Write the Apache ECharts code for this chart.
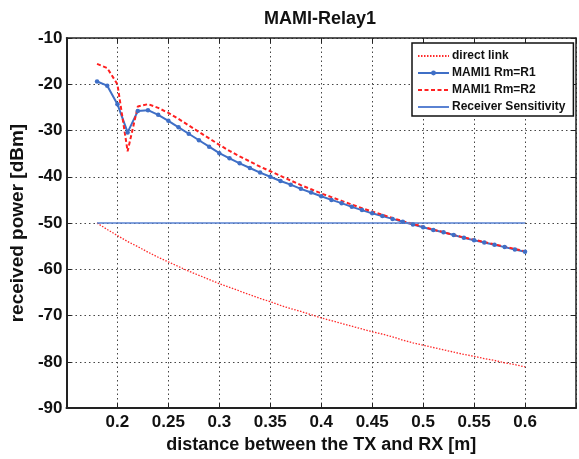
<!DOCTYPE html>
<html>
<head>
<meta charset="utf-8">
<script src="https://cdn.jsdelivr.net/npm/echarts@6/dist/echarts.min.js"></script>
<style>
  html, body { margin: 0; padding: 0; background: #fff; }
  #chart { width: 579px; height: 459px; }
</style>
</head>
<body>
<div id="chart"></div>
<script>
// Distance between TX and RX [m]
const distance = [0.18, 0.19, 0.20, 0.21, 0.22, 0.23, 0.24, 0.25, 0.26, 0.27, 0.28, 0.29, 0.30,
  0.31, 0.32, 0.33, 0.34, 0.35, 0.36, 0.37, 0.38, 0.39, 0.40,
  0.41, 0.42, 0.43, 0.44, 0.45, 0.46, 0.47, 0.48, 0.49, 0.50,
  0.51, 0.52, 0.53, 0.54, 0.55, 0.56, 0.57, 0.58, 0.59, 0.60];

// Received power [dBm]
const directLink = [-50.0, -51.4, -52.7, -54.0, -55.1, -56.3, -57.4, -58.4, -59.4, -60.4, -61.3, -62.2, -63.1,
  -63.9, -64.7, -65.5, -66.3, -67.0, -67.8, -68.5, -69.1, -69.8, -70.5,
  -71.1, -71.7, -72.3, -72.9, -73.5, -74.0, -74.6, -75.3, -75.9, -76.4,
  -76.9, -77.4, -77.9, -78.4, -78.8, -79.3, -79.7, -80.2, -80.6, -81.1];

const mamiR1 = [-19.4, -20.3, -24.3, -30.4, -25.8, -25.6, -26.6, -27.9, -29.3, -30.7, -32.1, -33.5, -34.9,
  -36.0, -37.1, -38.1, -39.1, -40.0, -40.9, -41.7, -42.6, -43.4, -44.2,
  -45.0, -45.7, -46.5, -47.2, -47.9, -48.5, -49.1, -49.7, -50.3, -50.9,
  -51.5, -52.0, -52.6, -53.2, -53.7, -54.2, -54.7, -55.2, -55.7, -56.2];

const mamiR2 = [-15.6, -16.5, -20.0, -34.5, -24.8, -24.3, -25.1, -26.2, -27.5, -28.9, -30.3, -31.7, -33.1,
  -34.4, -35.6, -36.7, -37.8, -38.8, -39.8, -40.8, -41.8, -42.7, -43.6,
  -44.4, -45.2, -46.0, -46.8, -47.5, -48.2, -48.9, -49.6, -50.2, -50.8,
  -51.4, -52.0, -52.6, -53.1, -53.6, -54.1, -54.6, -55.1, -55.6, -56.1];

const receiverSensitivity = -50;

const seriesNames = ['direct link', 'MAMI1 Rm=R1', 'MAMI1 Rm=R2', 'Receiver Sensitivity'];
const xTickLabels = ['0.2', '0.25', '0.3', '0.35', '0.4', '0.45', '0.5', '0.55', '0.6'];
const yTickLabels = ['-90', '-80', '-70', '-60', '-50', '-40', '-30', '-20', '-10'];

const FONT = '"Liberation Sans", Arial, Helvetica, sans-serif';
const pairs = ys => distance.map((d, i) => [d, ys[i]]);

const gridDots = { show: true, lineStyle: { color: '#444', width: 1, type: [1.5, 3] } };
const hiddenMarker = { opacity: 0 };

const chart = echarts.init(document.getElementById('chart'), null, { renderer: 'canvas' });

chart.setOption({
  animation: false,
  backgroundColor: '#fff',
  title: {
    text: 'MAMI-Relay1',
    left: 320,
    top: 10,
    padding: 0,
    textAlign: 'center',
    textStyle: { fontFamily: FONT, fontWeight: 'bold', fontSize: 18, color: '#111' }
  },
  legend: {
    orient: 'vertical',
    left: 412,
    top: 43,
    padding: [7, 8, 3, 5],
    itemGap: 5,
    itemWidth: 31,
    itemHeight: 6,
    backgroundColor: '#fff',
    borderColor: '#111',
    borderWidth: 1.5,
    borderRadius: 0,
    data: [
      { name: seriesNames[0], itemStyle: hiddenMarker },
      { name: seriesNames[1] },
      { name: seriesNames[2], itemStyle: hiddenMarker },
      { name: seriesNames[3], itemStyle: hiddenMarker }
    ],
    textStyle: { fontFamily: FONT, fontWeight: 'bold', fontSize: 12, color: '#111', lineHeight: 12, padding: [0, 0, 0, -2] }
  },
  grid: {
    left: 62, top: 38, width: 517, height: 374,
    show: false
  },
  xAxis: [{
    type: 'value', min: 0.15, max: 0.65, interval: 0.05,
    name: 'distance between the TX and RX [m]',
    nameLocation: 'middle', nameGap: 22,
    nameTextStyle: { fontFamily: FONT, fontWeight: 'bold', fontSize: 18, color: '#111', verticalAlign: 'top' },
    axisLine: { show: true, onZero: false, lineStyle: { color: '#222', width: 2 } },
    axisTick: { show: true, inside: true, length: 5, lineStyle: { color: '#222', width: 1 } },
    axisLabel: {
      margin: 6,
      fontFamily: FONT, fontWeight: 'bold', fontSize: 17, color: '#111',
      formatter: v => { const s = String(+v.toFixed(2)); return xTickLabels.includes(s) ? s : ''; }
    },
    splitLine: gridDots
  }, {
    type: 'value', min: 0.15, max: 0.65, interval: 0.05, position: 'top',
    axisLine: { show: true, onZero: false, lineStyle: { color: '#222', width: 1.5 } },
    axisTick: { show: true, inside: true, length: 5, lineStyle: { color: '#222', width: 1 } },
    axisLabel: { show: false },
    splitLine: { show: false }
  }],
  yAxis: [{
    type: 'value', min: -90, max: -10, interval: 10,
    name: 'received power [dBm]',
    nameLocation: 'middle', nameGap: 31,
    nameTextStyle: { fontFamily: FONT, fontWeight: 'bold', fontSize: 19, color: '#111' },
    axisLine: { show: true, onZero: false, lineStyle: { color: '#222', width: 2 } },
    axisTick: { show: true, inside: true, length: 5, lineStyle: { color: '#222', width: 1 } },
    axisLabel: {
      margin: 4,
      fontFamily: FONT, fontWeight: 'bold', fontSize: 17, color: '#111',
      formatter: v => { const s = String(Math.round(v)); return yTickLabels.includes(s) ? s : ''; }
    },
    splitLine: gridDots
  }, {
    type: 'value', min: -90, max: -10, interval: 10, position: 'right',
    axisLine: { show: true, onZero: false, lineStyle: { color: '#222', width: 1.5 } },
    axisTick: { show: true, inside: true, length: 5, lineStyle: { color: '#222', width: 1 } },
    axisLabel: { show: false },
    splitLine: { show: false }
  }],
  series: [{
    name: seriesNames[0],
    type: 'line',
    data: pairs(directLink),
    symbol: 'none',
    lineStyle: { color: '#ff2a2a', width: 1.3, type: [1.5, 1.5] },
    itemStyle: { color: '#ff2a2a' }
  }, {
    name: seriesNames[1],
    type: 'line',
    data: pairs(mamiR1),
    symbol: 'circle',
    symbolSize: 4.5,
    lineStyle: { color: '#3f6fc6', width: 2 },
    itemStyle: { color: '#3f6fc6' }
  }, {
    name: seriesNames[2],
    type: 'line',
    data: pairs(mamiR2),
    symbol: 'none',
    lineStyle: { color: '#ff2020', width: 2, type: [4, 2.5] },
    itemStyle: { color: '#ff2020' }
  }, {
    name: seriesNames[3],
    type: 'line',
    data: distance.map(d => [d, receiverSensitivity]),
    symbol: 'none',
    lineStyle: { color: '#5a82d2', width: 1.6 },
    itemStyle: { color: '#5a82d2' }
  }]
});
</script>
</body>
</html>
